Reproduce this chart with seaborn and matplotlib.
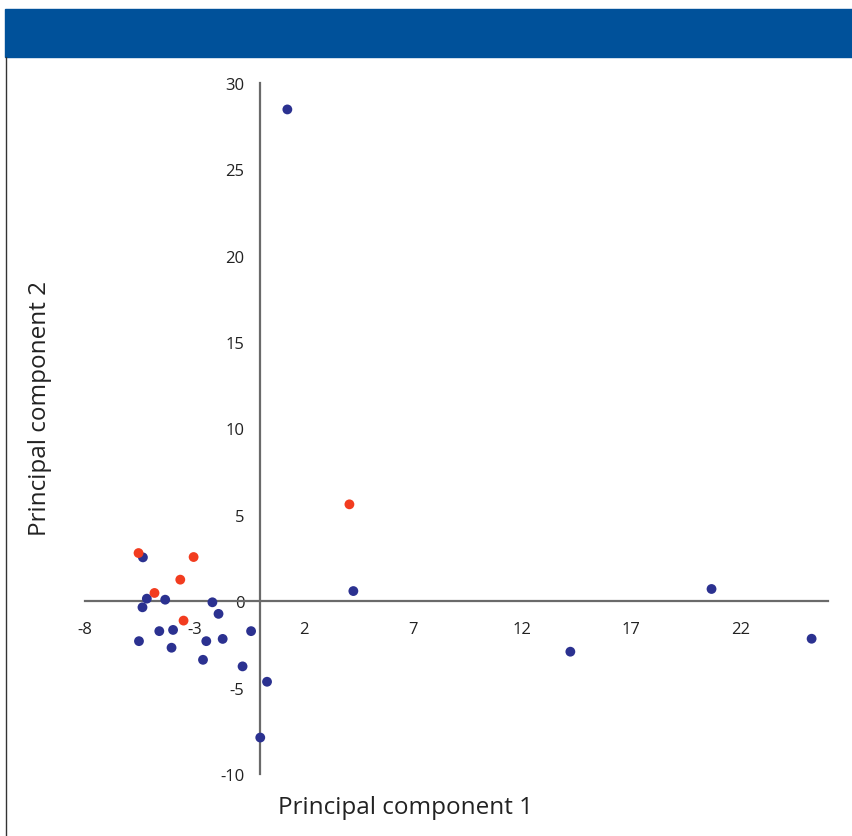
import matplotlib
matplotlib.use('Agg')
import matplotlib.pyplot as plt
import matplotlib.patches as mpatches
import matplotlib.lines as mlines
import pandas as pd
import seaborn as sns

# Data
red_pc1 = [-5.55, -3.03, -3.64, -4.82, -3.49, 4.10]
red_pc2 = [2.79, 2.56, 1.25, 0.48, -1.12, 5.61]
blue_pc1 = [-5.35, -5.17, -5.37, -4.33, -2.17, -1.89, -4.60, -3.97, -5.53, -4.04,
            -2.45, -1.70, -0.40, -2.60, -0.79, 0.33, 0.02, 1.26, 4.28, 20.67,
            25.25, 14.21]
blue_pc2 = [2.54, 0.15, -0.35, 0.09, -0.06, -0.73, -1.73, -1.66, -2.31, -2.69,
            -2.31, -2.18, -1.73, -3.39, -3.77, -4.66, -7.89, 28.47, 0.59, 0.71,
            -2.17, -2.92]
x_ticks = [-8, -3, 2, 7, 12, 17, 22]
y_ticks = [-10, -5, 0, 5, 10, 15, 20, 25, 30]

df = pd.DataFrame({
    'pc1': blue_pc1 + red_pc1,
    'pc2': blue_pc2 + red_pc2,
    'group': ['blue'] * len(blue_pc1) + ['red'] * len(red_pc1),
})

sns.set_style('white')
plt.rcParams['font.family'] = ['Open Sans', 'DejaVu Sans']
plt.rcParams['axes.unicode_minus'] = False

fig = plt.figure(figsize=(8.52, 8.37), dpi=100)
ax = fig.add_axes([85 / 852, 1 - 775 / 837, 743 / 852, 691 / 837])

sns.scatterplot(data=df, x='pc1', y='pc2', hue='group',
                palette={'blue': '#2b3190', 'red': '#f23c1f'},
                s=50, edgecolor='none', legend=False, ax=ax, zorder=3)

ax.set_xlim(-8, 26)
ax.set_ylim(-10, 30)
ax.set_xticks(x_ticks)
ax.set_yticks(y_ticks)

# axes cross at the origin
for side in ['top', 'right']:
    ax.spines[side].set_visible(False)
ax.spines['left'].set_position(('data', 0))
ax.spines['bottom'].set_position(('data', 0))
for side in ['left', 'bottom']:
    ax.spines[side].set_color('#6a6a6a')
    ax.spines[side].set_linewidth(1.6)
ax.tick_params(axis='both', direction='out', length=5, width=1.2,
               color='#7a7a7a', labelsize=12, labelcolor='#222222', pad=6)
ax.tick_params(axis='x', pad=9)

ax.set_xlabel('')
ax.set_ylabel('')
fig.text(405 / 852, 1 - 808 / 837, 'Principal component 1', ha='center', va='center',
         fontsize=17.5, color='#222222')
fig.text(40 / 852, 1 - 408 / 837, 'Principal component 2', ha='center', va='center',
         rotation=90, fontsize=17.5, color='#222222')

# header band and frame line
fig.patches.append(mpatches.Rectangle((5 / 852, 1 - 58 / 837), 847 / 852, 48 / 837,
                                      transform=fig.transFigure, color='#00519a'))
fig.lines.append(mlines.Line2D([5.5 / 852, 5.5 / 852], [0, 1 - 58 / 837],
                               transform=fig.transFigure, color='#333333', lw=1))

fig.savefig('out.png', dpi=100)
